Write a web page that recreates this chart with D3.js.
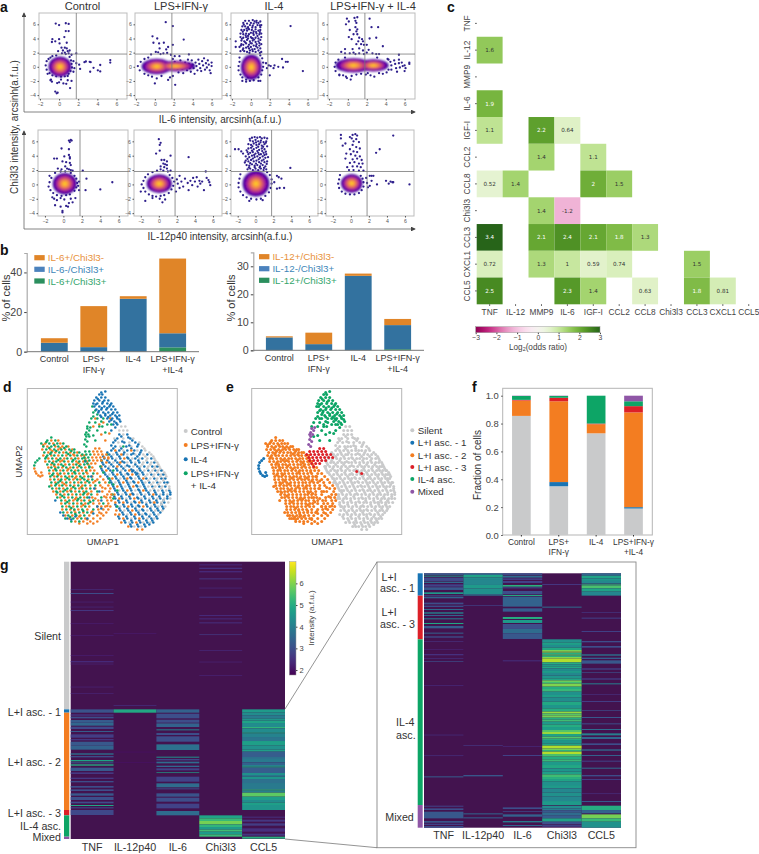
<!DOCTYPE html>
<html>
<head>
<meta charset="utf-8">
<script src="https://cdn.jsdelivr.net/npm/d3@7"></script>
<style>
  html, body { margin: 0; padding: 0; background: #fff; }
  svg { display: block; font-family: "Liberation Sans", Arial, sans-serif; }
</style>
</head>
<body>
<svg id="fig" width="759" height="854"></svg>
<script>
// ---- panel a: single cell scatter values, flat x,y lists, arcsinh(a.f.u.)
const scatterConditions = ['Control', 'LPS+IFN-γ', 'IL-4', 'LPS+IFN-γ + IL-4'];
const scatterTicksX = [-2, 0, 2, 4, 6];
const scatterTicksY = [-4, -2, 0, 2, 4, 6];
const gateValue = 1.8;

const il6Control = [-.35,6.1,0,5.9,.7,6.15,1,6.05,.7,5.05,1,5.05,-.7,3.9,-.75,3.5,-.4,3.6,0,3.9,.55,4.2,.05,3.3,.8,3.4,.25,2.7,.6,2.7,.4,2.3,.9,2.2,-.1,2.2,.6,2,1.1,2.3,.8,2.6,1,1.9,.3,1.9,1.3,1.7,.7,1.8,-1.3,.8,-1.4,.2,-1.3,-.4,-1.1,1.1,-.9,1.3,-.7,1.5,-.3,1.6,1.1,1.4,1.25,.9,1.3,.4,1.35,-.1,1.2,-.6,1,-1,.6,-1.35,.2,-1.4,-.3,-1.35,-.7,-1.2,-1,-.9,1.5,.8,1.6,-.2,1.5,-.7,-1.2,-1,.9,-1.3,-.9,-1.9,-.75,-2.1,-.85,-1.8,0,-2.2,.45,-2.35,.2,-1.8,-.4,-3.5,-.25,-3.75,-.15,-3.65,1.15,-3,.75,-2.4,1.3,-2,.9,-1.9,-.2,-2.3,1.8,1.9,1.8,.5,2.1,.3,2.2,-.3,2.65,.65,2.8,.75,3.2,.7,3.3,.65,3.25,-.7,3.6,-.15,4.05,-.5,4.3,.25,4.3,-.65,5.35,.95,5.35,.6];
const il6Lps = [1.15,6.3,1.9,5.75,-.25,4.3,.25,4,.95,3.4,-.15,3.4,.45,3.3,.5,2.6,1.2,2.45,3.05,3.85,1.9,3.1,1.4,2.8,.1,2.1,.9,1.9,.35,2.05,1.3,1.95,-.4,1.75,.6,1.8,1.7,1.7,2.1,1.5,3.6,1.75,2.6,1.5,0,-2.35,2.15,-2.55,.2,-1.65,1.4,-1.85,1.6,-1.5,1.9,-1.3,.7,-1.3,-.3,-1.4,-.7,-1.2,-1.1,-1,-1.6,-.5,-1.8,.1,-1.5,.7,-1.1,1.1,-.7,1.3,1.9,1.1,2.1,.7,2.3,.2,2.4,-.3,2.5,-.8,2.7,.9,2.8,.3,2.9,-.3,3,-.9,3.2,.6,3.3,.1,3.4,-.5,3.5,1,3.6,.4,3.7,-.2,3.8,-.7,3.9,.9,4,.3,4.1,-.2,4.2,-1,4.3,.6,4.4,.1,4.5,-.5,4.6,1,4.7,.4,4.8,-.2,4.9,-.6,5,.8,5.1,.2,5.2,1.2,5.3,-.4,5.4,.5,5.5,-.1,5.6,.9,5.7,.3,5.8,-.5,5.9,-.9,6,.1,6,.6];
const il6Il4 = [-1.6,3.6,-1.6,2.8,4.2,5.75,-.8,6.2,-.6,6.5,-.4,6.1,-.2,6.5,0,6.2,.2,6.6,.4,6.4,.6,6.5,.8,6.2,1,6.4,1.1,5.9,-.9,5.7,-.6,5.7,-.3,5.6,-.1,5.9,.2,5.8,.5,5.6,.7,5.9,1,5.6,-1,5.2,-.7,5.2,-.4,5.1,-.2,5.3,.1,5.2,.3,5,.5,5.3,.8,5.1,1,5.2,-1.1,4.7,-.8,4.6,-.5,4.7,-.2,4.6,0,4.8,.3,4.5,.6,4.7,.9,4.6,1.1,4.7,-1.1,4.2,-.8,4.1,-.5,4.2,-.3,4,0,4.2,.2,4,.5,4.1,.8,4,1.1,4.2,-1,3.7,-.7,3.6,-.4,3.8,-.1,3.6,.2,3.7,.5,3.5,.8,3.6,1,3.8,-1,3.2,-.8,3.1,-.5,3.3,-.2,3.1,.1,3.3,.3,3,.6,3.2,.9,3,1.1,3.2,-1.2,2.8,-.8,2.6,-.5,2.7,-.2,2.6,0,2.8,.4,2.5,.7,2.7,1,2.6,-1.1,2.2,-.7,2.2,-.4,2.1,-.1,2.3,.2,2.2,.5,2.1,.8,2.3,1.1,2.1,-1.2,1.3,-1.2,.7,-1.3,.1,-1.3,-.5,-1.1,-1.1,-.9,-1.5,-.5,-1.8,-.1,-2,.3,-1.9,.8,-1.5,1.1,-1.1,1.2,-.5,1.3,0,1.3,.6,1.2,1.2,1,1.6,-.9,-2,-.5,-2.1,-.3,-1.5,.8,-2,1,-2,1.7,-.2,1.9,.2,2.1,.1,2.4,-.2,2,-1.2,1.6,.5,3.3,1.1,3.7,.7,3.9,.7,3.4,-.1,5.5,-.6,2.5,.2,2.9,0];
const il6Il4More = [-.75,5.95,-.45,5.4,.15,5.55,.6,6.25,.95,5.85,-.85,4.95,-.3,4.35,.25,4.75,.7,4.35,.95,4.9,-.95,3.95,-.6,3.45,-.05,3.35,.35,3.85,.9,3.35,-1.05,3,-.3,2.85,.15,2.45,.55,2.9,-.85,2.4,-.15,1.95,.95,1.95,.3,6.1,-.55,4.45,.1,4.05,-.25,5.35,.55,4.9];
const il6Both = [-.1,6.8,.1,6.4,-.2,6,.7,6.9,.8,6.5,1,7,.9,6.2,.8,5.6,1,5.3,.9,5,2.3,6.8,3.2,5.6,2.5,5.6,.2,5.2,.6,4.6,1,4.6,1.2,4.1,.1,4.2,.4,3.9,1.5,3.9,2.3,4,3,4.1,1.1,3.6,1.6,3.6,1.4,3.2,.9,3.2,1.7,3.1,2,3.1,3.7,2.9,-.3,2.5,.5,2.5,1.2,2.6,1.6,2.3,2.2,2.4,-.7,2.1,-.3,1.9,.2,1.9,.8,1.8,1.2,1.9,2,2,2.6,1.9,.6,2,1.7,1.8,3,1.8,3.3,1.8,4.3,1,5.4,1.7,-1.3,.6,-1.4,0,-1.3,-.6,-1,1,-.9,-1.1,-.5,-1.2,-.2,-1.4,.4,-1.3,.9,-1.1,1.4,-1,1.9,-1.1,2.4,-1.2,2.8,-1.4,3.3,-.9,3.7,-1,4.1,-.8,4.2,1.1,4.5,.7,4.6,.2,4.6,-.4,4.9,.9,5,.4,5.1,-.2,5.2,-.7,5.4,1,5.4,.5,5.5,-.1,5.7,.6,5.8,.1,6,-.6,6,.2,6.1,-.2,6.5,.4,6.5,.6,.3,-1.8,-.1,-1.6,-.9,-1.2,2.1,-.9,4.3,-.4,3.1,1.3,-.3,1.3];
const il12Control = [.6,6.1,.8,6.2,.9,6.1,.7,5.9,-.2,5,.6,4.9,-1,3.6,-.7,3.6,.1,3.9,.6,4.1,.7,3.8,.7,3.6,-.1,3.2,.3,3.1,.7,3,.8,2.7,.2,2.5,.4,2.2,.6,2.1,-.2,2.1,.8,2,-.6,2.2,-.3,1.8,.2,1.8,1,1.9,-.9,1.6,-1.5,1.2,-1.3,.9,-1.5,.3,-1.6,-.3,-1.4,-.8,-1.1,-1.2,-.7,-1.5,-.2,-1.6,.3,-1.5,.7,-1.4,1.2,-.9,1.4,-.4,1.5,.2,1.4,.8,1.2,1.2,.8,1.6,1.6,-.2,1.7,.4,1.7,-.8,-1.2,-1.8,-1,-2,-.7,-2.2,-.3,-1.9,.1,-2.1,.8,-2,-.9,-2.9,-.3,-3.1,.6,-2.6,1,-2.5,1.3,-1.9,-.1,-3.7,-.1,-3.9,.3,-3,.5,-3.1,2.1,1.9,2.5,.8,2.4,-.8,4,-.7,5.3,.3];
const il12Lps = [0,6.3,.2,5.8,.1,5.5,-.3,4.3,.1,4.7,1.3,4,.3,3.4,.6,3.4,.9,3.2,.5,2.9,.7,2.8,.9,2.7,.2,2.5,.6,2.4,.9,2.2,3.3,3.8,.2,2.1,-.2,1.9,.5,1.9,1,1.8,1.3,1.9,-.7,1.7,-1.2,1.4,-1.5,1,-1.7,.5,-1.9,0,-1.7,-.5,-2,-1,-1.5,-1,-1.1,-1.4,-.7,-1.6,-.3,-1.7,.2,-1.6,.6,-1.5,1.1,-1.2,1.4,-.7,1.6,-.2,1.7,.4,1.5,.9,1.2,1.3,-1.5,-2.3,-.7,-1.9,.4,-2.5,.7,-2.1,.1,-2,2,.7,2.1,.1,2.3,-.5,2.5,.4,2.7,-.3,2.9,.8,3.2,.2,3.3,-.8,3.5,.5,3.7,-.1,3.8,.9,4,.4,4.2,1,4.3,-.3,4.5,.5,4.6,.1,4.8,.4,5,-.8,5.2,1.8,5.3,.9,5.5,.6,5.6,.3,5.7,-.1,1.9,-1,2.3,1.2];
const il12Il4 = [-.4,6.5,-.1,6.6,.2,6.5,.5,6.6,.7,6.4,1,6.5,1.3,6.4,-.6,6.1,-.3,6,0,6.2,.3,6,.6,6.1,.9,5.9,1.2,6,-.8,5.6,-.5,5.5,-.2,5.7,.1,5.5,.4,5.6,.7,5.4,1,5.6,1.3,5.3,-.8,5,-.5,5.1,-.2,4.9,.1,5.1,.4,4.8,.7,5,1,4.9,-2.3,4.9,-1.9,4.9,-1.6,4.6,-1.4,4.3,-.9,4.5,-.6,4.4,-.3,4.5,0,4.3,.3,4.4,.6,4.2,.9,4.4,1.2,4.2,-1.1,3.9,-.7,3.8,-.4,4,-.1,3.8,.2,3.9,.5,3.7,.8,3.9,1.1,3.7,1.4,3.8,-1.1,3.3,-.8,3.2,-.5,3.4,-.2,3.2,.1,3.3,.4,3.1,.7,3.3,1,3.1,1.3,3.2,-1,2.7,-.7,2.6,-.4,2.8,-.1,2.6,.2,2.7,.5,2.5,.8,2.7,1.1,2.5,-.9,2.1,-.6,2.2,-.3,2,0,2.2,.3,2,.6,2.2,.9,2,1.2,2.1,-1.7,1.4,-1.8,.8,-1.9,.2,-1.9,-.4,-1.7,-1,-1.4,-1.5,-1,-1.8,-.5,-2,.1,-2.1,.6,-2,1.1,-1.6,1.5,-1.1,1.7,-.5,1.8,.1,1.8,.7,1.6,1.3,1.3,1.7,.8,-2.2,-.7,-2.3,2.4,1.2,2.6,1,2.9,.8,2.4,-.6,2.7,-.5,3.2,-.5,2.1,.3,3.9,2.3];
const il12Il4More = [-.65,6.35,.05,5.85,.55,5.85,1.15,5.8,-.35,5.3,.3,5.25,.85,5.25,-1,4.75,-.4,4.7,.2,4.65,.75,4.65,1.15,4.55,-.8,4.2,-.15,4.1,.4,4.15,1,4.1,-.9,3.55,-.3,3.6,.35,3.5,.9,3.45,-1.2,3.05,-.6,2.95,.05,2.9,.6,2.9,1.25,2.85,-.75,2.35,-.1,2.4,.45,2.35,.95,2.3];
const il12Both = [-1.1,6.9,.2,6.9,.5,7,.7,6.8,-.1,6.6,.1,6.4,.6,6.3,.3,6,.9,5.9,4.7,6.8,-1.1,6.4,-.6,5.7,-.9,5.4,.2,5.5,.6,5.2,1,5,-.1,4.9,.3,4.6,.7,4.5,-.5,4.3,0,4.2,.5,4,1,3.9,3.2,4.9,2.8,4.4,-.6,3.6,.2,3.5,.7,3.6,1.2,3.4,-.1,3,.4,3.1,.9,2.9,1.3,2.9,-.4,2.4,.2,2.5,.7,2.5,1.1,2.4,.3,2,-.2,2,.9,1.9,1.4,1.9,-1.2,1.3,-1.3,.7,-1.4,.1,-1.3,-.5,-1,-1,-.6,-1.3,-.1,-1.4,.4,-1.4,.9,-1.2,1.2,-.8,1.4,-.3,1.4,.3,1.3,.8,1.1,1.2,1.7,.9,1.8,.2,1.9,-.4,2.1,1.2,2.3,.5,2.3,1.2,2.5,1.2,2.9,0,3.9,.5,4.2,.1,4.4,.4,4.6,.3,4.7,.3,6.5,0,2.1,-.2];
// densest part of each scatter: centre x, centre y, half width, half height
const il6Cores = [[[.1,0,1.2,1.45]], [[.2,.05,1.6,1.1],[2.2,.1,2.1,.75]], [[.05,-.05,1.1,1.8]], [[.6,.2,1.9,1],[2.7,.2,1.6,.85]]];
const il12Cores = [[[.15,.1,1.3,1.5]], [[.05,.1,1.4,1.3]], [[.05,.1,1.5,1.8]], [[.1,.15,1.2,1.3]]];
const coreRings = [[1, .07], [.85, .25], [.68, .45], [.5, .62], [.32, .78], [.14, .9]];

// ---- panel b
const barConditions = ['Control', 'LPS+\nIFN-γ', 'IL-4', 'LPS+IFN-γ\n+IL-4'];
const il6Double = [0, .1, 0, 2.2];
const il6ChiOnly = [4.5, 2.2, 26.7, 7.1];
const il6Only = [2.3, 20.7, 1.3, 37.7];
const il12Double = [0, 0, 0, .4];
const il12ChiOnly = [4.6, 2.2, 26.6, 8.6];
const il12Only = [.4, 4.1, .8, 2.2];
const il6LegendLabels = ['IL-6+/Chi3l3-', 'IL-6-/Chi3l3+', 'IL-6+/Chi3l3+'];
const il12LegendLabels = ['IL-12+/Chi3l3-', 'IL-12-/Chi3l3+', 'IL-12+/Chi3l3+'];

// ---- panel c
const cytokines = ['TNF', 'IL-12', 'MMP9', 'IL-6', 'IGF-I', 'CCL2', 'CCL8', 'Chi3l3', 'CCL3', 'CXCL1', 'CCL5'];
const oddsRows = ['IL-12','IL-6','IGF-I','IGF-I','IGF-I','CCL2','CCL2','CCL8','CCL8','CCL8','CCL8','Chi3l3','Chi3l3','CCL3','CCL3','CCL3','CCL3','CCL3','CCL3','CXCL1','CXCL1','CXCL1','CXCL1','CXCL1','CXCL1','CCL5','CCL5','CCL5','CCL5','CCL5','CCL5'];
const oddsCols = ['TNF','TNF','TNF','MMP9','IL-6','MMP9','IGF-I','TNF','IL-12','IGF-I','CCL2','MMP9','IL-6','TNF','MMP9','IL-6','IGF-I','CCL2','CCL8','TNF','MMP9','IL-6','IGF-I','CCL2','CCL3','TNF','IL-6','IGF-I','CCL8','CCL3','CXCL1'];
const oddsValues = [1.6,1.9,1.1,2.2,.64,1.4,1.1,.52,1.4,2,1.5,1.4,-1.2,3.4,2.1,2.4,2.1,1.8,1.3,.72,1.3,1,.59,.74,1.5,2.5,2.3,1.4,.63,1.8,.81];

// ---- panels d, e: UMAP cells as flat x,y lists, one list per cluster and treatment
const silentBlue = [92,46,100,46,90,50,103,50,86,54,97,54,108,54,88,58,99,58,110,58,84,62,92,62,100,62,107,62,114,62,82,66,90,66,96,66,104,66,112,66,120,66,77,70,85,70,93,70,101,70,108,70,115,70,124,70,75,74,82,74,90,74,97,74,104,74,112,74,120,74,127,74,78,78,86,78,94,78,102,78,110,78,117,78,125,78,130,78,75,82,83,82,90,82,98,82,106,82,113,82,121,82,128,82,134,82,78,86,86,86,94,86,101,86,109,86,116,86,124,86,131,86,136,86,81,90,89,90,97,90,104,90,112,90,119,90,127,90,134,90,138,90,84,94,92,94,100,94,107,94,115,94,122,94,130,94,137,94,140,94,86,98,94,98,102,98,110,98,117,98,125,98,132,98,138,98,88,102,96,102,104,102,112,102,119,102,127,102,135,102,142,102,91,106,99,106,106,106,114,106,122,106,129,106,136,106,143,106,88,110,95,110,103,110,111,110,118,110,126,110,133,110,140,110,92,114,100,114,108,114,115,114,123,114,130,114,137,114,89,118,97,118,105,118,112,118,120,118,128,118,135,118,93,122,101,122,109,122,116,122,124,122,131,122,96,126,104,126,112,126,119,126,127,126,92,130,100,130,108,130,116,130,124,130,130,130,98,134,105,134,113,134,120,134,126,134,104,138,111,138,118,138];
const silentBlue2 = [94,48,101,49,88,52,95,53,105,52,111,56,84,57,102,57,86,60,94,60,104,60,80,64,89,64,97,64,106,65,113,64,76,68,84,68,92,68,100,69,110,68,74,72,80,72,88,72,95,73,103,72,111,72,76,76,84,76,92,76,100,77,108,76,74,80,81,80,89,80,96,80,104,81,112,80,77,84,85,84,93,84,100,85,108,84,115,84,80,88,88,88,96,88,103,89,111,88,83,92,91,92,99,92,106,93,114,92,85,96,93,96,101,96,109,97,116,96,87,100,95,100,103,100,111,101,118,100,90,104,98,104,105,105,113,104,121,104,128,104,136,104,143,104,87,108,94,108,102,108,110,109,117,108,125,108,132,108,140,108,91,112,99,112,107,113,114,112,122,112,129,112,136,112,88,116,96,116,104,116,111,117,119,116,127,116,134,116,92,120,100,120,108,120,115,121,123,120,130,120,136,120,95,124,103,124,111,124,118,125,126,124,133,124,91,128,99,128,107,128,115,128,122,128,129,128,97,132,104,132,112,132,119,132,125,132,103,136,110,136,117,136,122,136];
const silentGrey = [94,38,98,38,92,42,96,42,100,42,96,46,87,50,96,50,106,50,91,54,102,54,112,54,93,58,104,58,115,58,96,62,110,62,118,62,86,66,100,66,108,66,116,66,124,66,89,70,105,70,112,70,120,70,127,70,86,74,100,74,108,74,116,74,124,74,130,74,82,78,98,78,106,78,113,78,121,78,128,78,132,78,94,82,110,82,117,82,125,82,131,82,135,82,82,86,98,86,112,86,120,86,127,86,134,86,138,86,93,90,108,90,123,90,130,90,136,90,88,94,103,94,118,94,126,94,133,94,141,94,98,98,113,98,121,98,128,98,135,98,142,98,92,102,108,102,123,102,131,102,139,102,95,106,110,106,118,106,133,106,140,106,99,110,114,110,122,110,130,110,137,110,143,110,104,114,119,114,126,114,134,114,141,114,93,118,109,118,124,118,131,118,138,118,97,122,112,122,120,122,128,122,135,122,100,126,115,126,123,126,131,126,104,130,120,130,127,130,102,134,116,134,123,134,107,138,114,138];
const silentGrey2 = [117,60,122,64,118,68,126,68,119,72,128,72,115,76,123,76,131,76,120,80,127,80,133,80,123,84,130,84,137,84,118,88,126,88,133,88,139,88,121,92,129,92,136,92,124,96,131,96,139,96,126,100,134,100,142,100,136,112,134,116];
const silentOrange = [88,62,104,62,94,66,81,70,97,70,79,74,93,74,74,78,90,78,79,82,102,82,90,86,105,86,85,90,100,90,116,90,96,94,111,94,90,98,106,98,100,102,116,102,87,106,103,106,126,106,92,110,107,110,88,114,96,114,112,114,127,114,101,118,116,118,89,122,105,122,88,126,92,126,108,126,96,130,112,130,94,134,109,134,101,138,110,141,115,141];
const silentGreen = [80,66,74,72,73,78,76,84,82,90,86,96,82,94,90,102,86,110,90,118,85,106,86,82,96,58];
const silentRed = [105,83,110,85];
const l2Green = [24,49,20,52,28,52,14,55,22,55,30,55,36,55,16,58,24,58,31,58,39,58,19,61,27,61,34,61,42,61,47,61,17,64,24,64,32,64,39,64,47,64,52,64,20,67,27,67,35,67,43,67,50,67,18,70,25,70,33,70,40,70,48,70,55,70,22,73,29,73,37,73,45,73,52,73,20,76,27,76,34,76,42,76,49,76,57,76,24,79,31,79,39,79,46,79,54,79,62,79,22,82,29,82,36,82,44,82,51,82,59,82,26,85,33,85,41,85,48,85,56,85,66,85,23,88,30,88,38,88,45,88,53,88,61,88,27,91,34,91,42,91,50,91,57,91,65,91,24,94,31,94,39,94,47,94,54,94,62,94,72,94,28,97,35,97,43,97,51,97,58,97,68,97,25,100,32,100,40,100,48,100,55,100,63,100,29,103,36,103,44,103,52,103,59,103,70,103,33,106,41,106,49,106,56,106,64,106,30,109,37,109,45,109,53,109,60,109,74,109,34,112,42,112,50,112,57,112,66,112,38,115,46,115,54,115,61,115,76,115,35,118,42,118,50,118,58,118,39,121,47,121,55,121,66,121,36,124,44,124,52,124,60,124,41,127,49,127,57,127,38,130,46,130,54,130,44,133,52,133];
const l2Green2 = [19,53.5,27,56.5,22,59.5,37,59.5,29,62.5,44,62.5,23,65.5,41,65.5,19,68.5,31,71.5,46,71.5,25,74.5,36,77.5,52,77.5,28,80.5,47,83.5,25,86.5,40,89.5,55,89.5,33,92.5,60,92.5,29,95.5,46,98.5,38,101.5,57,104.5,35,107.5,51,110.5,40,113.5,63,113.5,44,119.5,56,122.5,48,125.5,43,128.5,30,104,22,98];
const l2Orange = [24,52,31,52,18,55,26,55,33,55,20,58,28,58,35,58,41,58,15,61,23,61,31,61,38,61,45,61,21,64,28,64,36,64,43,64,50,64,16,67,24,67,31,67,39,67,47,67,54,67,57,67,21,70,29,70,37,70,44,70,51,70,58,70,18,73,26,73,33,73,41,73,49,73,56,73,60,73,24,76,31,76,38,76,46,76,53,76,61,76,21,79,28,79,35,79,43,79,50,79,58,79,65,79,26,82,33,82,40,82,48,82,55,82,63,82,67,82,22,85,30,85,37,85,45,85,52,85,60,85,70,85,27,88,34,88,42,88,49,88,57,88,65,88,73,88,23,91,31,91,38,91,46,91,53,91,61,91,70,91,76,91,28,94,35,94,43,94,51,94,58,94,66,94,78,94,24,97,32,97,39,97,47,97,55,97,63,97,73,97,81,97,29,100,36,100,44,100,52,100,59,100,68,100,78,100,83,100,26,103,33,103,40,103,48,103,56,103,64,103,75,103,82,103,29,106,37,106,45,106,53,106,60,106,70,106,80,106,84,106,33,109,41,109,49,109,57,109,65,109,79,109,83,109,38,112,46,112,54,112,62,112,71,112,80,112,84,112,34,115,42,115,50,115,58,115,66,115,72,115,81,115,39,118,46,118,54,118,62,118,70,118,78,118,83,118,35,121,43,121,51,121,60,121,71,121,76,121,81,121,40,124,48,124,56,124,64,124,72,124,79,124,38,127,45,127,53,127,62,127,70,127,76,127,42,130,50,130,58,130,66,130,73,130,48,133,56,133,63,133,70,133,52,135,60,135];
const l2Orange2 = [16,56.5,33,59.5,25,62.5,46,66,35,72,51,74.5,27,77.5,41,80.5,59,83.5,31,86.5,48,89.5,68,92.5,37,95.5,54,98.5,75,99,43,102,61,105,77,108,48,110.5,68,110,80,117.5,56,116.5,74,118,47,122,65,123,74,125,52,128,60,131,66,135];
const l2Blue = [36,127,40,130,44,131,48,128,66,125,70,118,62,109,67,100,72,103,58,73,64,88,60,130,74,112,74,120,33,124,28,112];
const l1Green = [12,70,10,72,8,74,7,77];
const l1Orange = [7,80,8,83,9,85,11,87,13,88,15,87,14,84];
const l3Green = [58,63,62,63,55,66,59,66,63,66,57,69,61,69,58,72,62,72,60,75,62,78];
const l3Orange = [66,63,70,63,74,63,68,60,72,60,67,66,71,66,75,66,79,66,65,69,69,69,73,69,77,69,81,69,66,72,70,72,74,72,64,75,68,75];
const il4Blue = [72,6,75,6,69,9,74,9,78,9,67,12,72,12,77,12,81,12,70,15,75,15,80,15,84,15,67,18,72,18,77,18,82,18,86,18,69,21,74,21,79,21,84,21,88,21,71,24,76,24,81,24,86,24,90,24,73,27,78,27,83,27,88,27,92,27,80,30,85,30,90,30,82,33,87,33,93,33,86,36,90,36,88,39,84,42,66,15,78,3,74,4];
const il4Blue2 = [70.5,10.5,75.5,13.5,68.5,16,83,16.5,74.5,19.5,80,19.5,71.5,22.5,78,25.5,85,25.5,74,28.5,81,28.5,89.5,28.5,84,31.5,89,34.5,92,31];
const il4Green = [65,18,66,24,64,30,62,34,60,38,68,34,70,42,66,47,68,52,62,48,75,38,78,44,70,30,66,28,74,33,80,36,84,36,68,22,70,26,76,30,72,38];
const il4Orange = [68,30,72,36,76,34,82,45,74,46,78,52,66,38,83,30];
const mixedCells = [60,40,62,42,59,44,61,46,59,48,58,51,60,53,57,56,59,58,63,39,58,46];

// drawing order of panel d follows this table
const umapGroups = [
  {cells: silentGrey, condition: 'Control', cluster: 'Silent'},
  {cells: silentBlue, condition: 'IL-4', cluster: 'Silent'},
  {cells: silentBlue2, condition: 'IL-4', cluster: 'Silent'},
  {cells: silentGrey2, condition: 'Control', cluster: 'Silent'},
  {cells: silentOrange, condition: 'LPS+IFN-γ', cluster: 'Silent'},
  {cells: silentGreen, condition: 'Both', cluster: 'Silent'},
  {cells: l2Orange, condition: 'LPS+IFN-γ', cluster: 'L+I asc. - 2'},
  {cells: l2Orange2, condition: 'LPS+IFN-γ', cluster: 'L+I asc. - 2'},
  {cells: l2Green, condition: 'Both', cluster: 'L+I asc. - 2'},
  {cells: l2Green2, condition: 'Both', cluster: 'L+I asc. - 2'},
  {cells: l2Blue, condition: 'IL-4', cluster: 'L+I asc. - 2'},
  {cells: l1Orange, condition: 'LPS+IFN-γ', cluster: 'L+I asc. - 1'},
  {cells: l1Green, condition: 'Both', cluster: 'L+I asc. - 1'},
  {cells: l3Orange, condition: 'LPS+IFN-γ', cluster: 'L+I asc. - 3'},
  {cells: l3Green, condition: 'Both', cluster: 'L+I asc. - 3'},
  {cells: silentRed, condition: 'IL-4', cluster: 'L+I asc. - 3'},
  {cells: il4Orange, condition: 'LPS+IFN-γ', cluster: 'IL-4 asc.'},
  {cells: il4Green, condition: 'Both', cluster: 'IL-4 asc.'},
  {cells: il4Blue, condition: 'IL-4', cluster: 'IL-4 asc.'},
  {cells: il4Blue2, condition: 'IL-4', cluster: 'IL-4 asc.'},
  {cells: mixedCells, condition: 'Both', cluster: 'Mixed'}
];
const conditionNames = ['Control', 'LPS+IFN-γ', 'IL-4', 'Both'];
const clusterNames = ['Silent', 'L+I asc. - 1', 'L+I asc. - 2', 'L+I asc. - 3', 'IL-4 asc.', 'Mixed'];

// ---- panel f, fraction per cluster
const fracSilent = [.855, .35, .73, .19];
const fracL1 = [0, .03, 0, .01];
const fracL2 = [.11, .58, .065, .68];
const fracL3 = [.005, .025, .005, .045];
const fracIl4 = [.028, .013, .2, .035];
const fracMixed = [.002, .002, 0, .04];

// ---- panel g: bands of cells as [first row, last row, intensity], everything else is background
const heatGenes = ['TNF', 'IL-12p40', 'IL-6', 'Chi3l3', 'CCL5'];
const heatTnf = [[103,105,2.5],[114,117,3],[140,142,2.3],[155,157,2.4],[165,168,2.6],[205,207,2.2],[240,242,2.2],[300,302,2.2],[318,322,2.4],[326,328,2.3],[395,397,2.3],[414,416,2.3],[463,473,3.1],[478,482,2.6],[485,490,3],[495,503,3.3],[503,512,3.5],[515,522,2.9],[528,531,3.3],[538,548,2.7],[552,556,2.6],[560,572,3.2],[572,584,3.4],[595,599,3.7],[603,607,3],[615,619,4.8],[622,625,3.2],[628,632,5],[638,648,3.2],[652,657,2.6],[668,672,2.6],[678,682,3],[693,698,3],[703,708,3],[715,722,3.2],[726,735,3],[740,745,3],[750,753,4.9],[757,760,3],[765,780,2.9]];
const heatP40 = [[235,237,2.15],[450,452,2.5],[463,473,4.9],[590,592,2],[622,624,2]];
const heatIl6 = [[463,473,3.4],[476,490,3],[494,503,3],[505,516,3.4],[523,526,4],[534,540,3],[544,560,3],[568,585,3.7],[605,608,4.4],[612,616,2.9],[620,625,3.6],[632,636,3.5],[640,646,2.8],[652,654,4.7],[665,680,2.8],[685,697,3.6],[700,703,3],[715,725,3.1],[728,740,3],[746,760,2.8],[768,781,3.6]];
const heatChi = [[28,31,2.4],[38,42,2.5],[48,52,2.4],[70,73,2.6],[98,100,2.4],[125,128,2.5],[180,183,2.4],[190,193,2.4],[202,205,2.5],[238,240,2.7],[285,287,2.4],[320,322,2.3],[360,362,2.3],[781,790,4.8],[790,798,5.3],[798,808,5.9],[808,816,5.2],[816,824,4.6],[824,830,5.4],[830,838,4.6],[838,845,5.3]];
const heatCcl5 = [[463,473,4.6],[473,482,4.3],[482,490,3.9],[490,497,4.5],[497,504,4.8],[504,516,4.3],[516,520,5.2],[520,532,4.3],[532,536,4.8],[536,546,4.1],[546,558,3.8],[558,572,4.7],[572,584,4.4],[584,590,4.7],[590,606,3.3],[606,612,3.7],[612,622,3.9],[622,630,3.4],[630,634,4.1],[634,638,4.8],[638,654,3.3],[654,660,4.4],[660,665,3.8],[665,672,4.5],[672,684,3.7],[684,703,3.9],[703,707,5.1],[707,713,4],[713,725,5.7],[725,735,4.7],[735,742,4.3],[742,750,4.7],[750,765,4.5],[785,788,2.5],[794,800,2.6],[805,812,2.7],[820,830,2.5],[836,842,2.6],[845,851,5.1]];
const zoomTnf = [[55,60,3.2],[62,65,4.6],[68,78,2.9],[80,84,3.6],[88,95,2.8],[97,105,3.2],[112,117,4.6],[120,122,3],[125,130,3.4],[143,148,3],[152,156,3],[162,165,3.6],[172,176,4.2],[180,183,3.5],[190,193,4],[204,207,4.9],[213,220,3.3],[233,236,3.4],[244,248,3],[258,260,2.5],[283,285,2.3],[297,301,2.5],[310,312,2.5],[318,320,3],[390,392,2.4],[539,541,2.5],[601,603,2.5],[664,667,3.3],[752,755,2.8],[760,765,3],[770,790,3.2],[798,803,3.2],[806,810,2.8],[813,818,3]];
const zoomP40 = [[55,60,3.6],[60,68,4.8],[68,75,4.3],[75,90,4.2],[90,100,4.6],[100,118,4.4],[118,122,3.8],[150,152,2.8],[570,572,2.6],[660,664,3.2],[775,778,3.5],[787,790,3.4]];
const zoomIl6 = [[55,60,3],[62,68,3.6],[70,75,2.7],[78,84,2.8],[90,95,5.1],[97,100,3],[108,118,3],[120,123,5],[125,155,3.4],[160,170,3.3],[186,192,5],[195,204,4.6],[207,222,3],[222,235,3.6],[235,252,3.2],[316,319,2.5],[573,575,2.4],[600,603,2.8],[757,762,3],[768,770,3],[778,785,3.4],[798,802,4],[810,813,3.5]];
const zoomChi = [[87,90,2.6],[155,158,3.6],[253,262,4.4],[262,270,4.7],[270,278,4.3],[278,285,4.9],[285,290,5.9],[290,293,6.3],[293,298,5],[298,302,5.6],[302,306,5.1],[306,311,6],[311,322,6.4],[322,328,5],[328,334,4.6],[334,340,4.9],[340,348,4.3],[348,354,4.6],[354,362,4.2],[362,370,4.5],[370,376,4.8],[376,381,5.8],[381,386,5.4],[386,395,6],[395,402,5],[402,410,5.3],[410,420,4.4],[420,428,4.7],[428,440,4.3],[440,450,4.9],[450,460,4.5],[460,470,5],[470,475,6.2],[475,481,5.6],[481,488,5.9],[488,494,5],[494,500,5.4],[500,508,4.6],[508,516,5],[516,525,4.7],[525,531,5.6],[531,537,6.2],[537,545,4.8],[545,551,5.6],[551,555,5],[555,565,4.5],[565,572,4.8],[572,580,6.4],[580,585,5.9],[585,590,5.2],[590,597,6.4],[597,605,5.5],[605,613,5],[613,620,5.3],[620,630,4.6],[630,640,4.9],[640,650,4.5],[650,658,4.7],[658,666,5.4],[666,672,5.1],[672,680,4.8],[680,690,4.4],[690,700,4.6],[700,712,4.2],[712,725,4.4],[725,738,4.2],[738,750,4.6],[752,760,4.3],[760,766,4],[766,772,3.2],[772,782,3.6],[782,790,3.3],[790,800,4.8],[800,808,3],[810,815,2.8]];
const zoomCcl5 = [[55,62,3.5],[62,70,4.8],[70,78,4.5],[78,86,4.2],[88,92,5.2],[92,100,5.5],[100,110,4.8],[110,122,4.2],[172,174,2.6],[188,191,2.8],[228,231,2.8],[258,262,3],[273,278,3],[298,302,3.8],[308,312,3.3],[316,326,3.2],[340,344,2.8],[352,354,3],[370,374,2.7],[385,388,4],[418,420,2.5],[438,441,2.7],[465,467,3],[486,489,3.2],[505,508,3],[522,525,3.6],[535,541,4],[546,552,3.5],[565,570,3],[583,587,3.6],[600,603,3.4],[617,620,2.8],[638,641,3.6],[660,664,3],[672,675,2.7],[715,717,2.5],[738,741,3.3],[752,765,5],[765,775,3.4],[778,790,5.9],[790,800,5.3],[800,818,4.4]];
const mainBarRows = [[20,463,'Silent'],[463,473,'L+I asc. - 1'],[473,765,'L+I asc. - 2'],[765,781,'L+I asc. - 3'],[781,845,'IL-4 asc.'],[845,852,'Mixed']];
const zoomBarRows = [[55,122,'L+I asc. - 1'],[122,253,'L+I asc. - 3'],[253,750,'IL-4 asc.'],[750,818,'Mixed']];
const intensityTicks = [2, 3, 4, 5, 6];

// colours
const conditionColor = d3.scaleOrdinal(conditionNames, ['#c9cacb', '#f37d21', '#1874b4', '#0da566']);
const clusterColor = d3.scaleOrdinal(clusterNames, ['#c9cacb', '#1874b4', '#f37d21', '#dc2028', '#0da566', '#8f56a6']);
const stackColor = {double: '#2b8f5e', chi: '#33729f', cyt: '#e08528'};
const legendTextColor = ['#e8913a', '#3d86b8', '#35a56c'];
const textDark = '#333';

const svg = d3.select('#fig');
const defs = svg.append('defs');

function label(x, y, text, size, opts = {}) {
    const t = svg.append('text')
        .attr('x', x)
        .attr('y', y)
        .attr('font-size', size)
        .attr('fill', opts.fill || textDark)
        .attr('text-anchor', opts.anchor || 'start')
        .attr('dominant-baseline', 'central')
        .text(text);
    if (opts.bold) t.attr('font-weight', 'bold');
    if (opts.rotate) t.attr('transform', `rotate(${opts.rotate},${x},${y})`);
    return t;
}

function styleAxis(g, size, color) {
    g.attr('font-family', null).attr('font-size', size);
    g.selectAll('text').attr('fill', color);
    g.selectAll('line').attr('stroke', color);
    g.selectAll('.domain').attr('stroke', color);
}

function flatPairs(list) {
    const out = [];
    for (let i = 0; i < list.length; i += 2) out.push([list[i], list[i + 1]]);
    return out;
}

// panel letters
[['a', 0, 7], ['b', 0, 250], ['c', 447, 7], ['d', 3, 386.5], ['e', 226, 386.5], ['f', 472, 386.5], ['g', 0, 565]]
    .forEach(d => label(d[1], d[2], d[0], 14, {bold: true, fill: '#111'}));

// ---------- panel a
const softBlur = defs.append('filter').attr('id', 'soft').attr('x', '-30%').attr('y', '-30%').attr('width', '160%').attr('height', '160%');
softBlur.append('feGaussianBlur').attr('stdDeviation', .9);

function scatterPanel(box, xDomain, yDomain, points, cores) {
    const x = d3.scaleLinear().domain(xDomain).range([box[0], box[1]]);
    const y = d3.scaleLinear().domain(yDomain).range([box[3], box[2]]);
    const g = svg.append('g');

    g.append('rect')
        .attr('x', box[0]).attr('y', box[2])
        .attr('width', box[1] - box[0]).attr('height', box[3] - box[2])
        .attr('fill', '#fff').attr('stroke', '#bdbdbd').attr('stroke-width', 1);

    g.append('g').selectAll('circle')
        .data(flatPairs(points))
        .join('circle')
        .attr('cx', d => x(d[0]))
        .attr('cy', d => y(d[1]))
        .attr('r', 1.15)
        .attr('fill', '#2e1f8c');

    // density core, darkest ring first
    const coreG = g.append('g').attr('filter', 'url(#soft)');
    coreRings.forEach(ring => {
        coreG.append('g').selectAll('ellipse')
            .data(cores)
            .join('ellipse')
            .attr('cx', d => x(d[0]))
            .attr('cy', d => y(d[1]))
            .attr('rx', d => Math.abs(x(d[0] + d[2] * ring[0]) - x(d[0])))
            .attr('ry', d => Math.abs(y(d[1] + d[3] * ring[0]) - y(d[1])))
            .attr('fill', d3.interpolatePlasma(ring[1]));
    });

    g.append('line').attr('x1', x(gateValue)).attr('x2', x(gateValue)).attr('y1', box[2]).attr('y2', box[3]).attr('stroke', '#777').attr('stroke-width', .8);
    g.append('line').attr('x1', box[0]).attr('x2', box[1]).attr('y1', y(gateValue)).attr('y2', y(gateValue)).attr('stroke', '#777').attr('stroke-width', .8);

    const xAxis = g.append('g').attr('transform', `translate(0,${box[3]})`)
        .call(d3.axisBottom(x).tickValues(scatterTicksX).tickSize(1.5).tickPadding(1.5));
    styleAxis(xAxis, 5.2, '#555');
    xAxis.select('.domain').remove();
    const yAxis = g.append('g').attr('transform', `translate(${box[0]},0)`)
        .call(d3.axisLeft(y).tickValues(scatterTicksY).tickSize(1.5).tickPadding(1.5));
    styleAxis(yAxis, 5.2, '#555');
    yAxis.select('.domain').remove();
}

const il6Boxes = [[39, 127], [135, 222], [231, 318], [328, 415]];
const il12Boxes = [[38, 128], [134, 222], [231, 318], [326, 414]];
[il6Control, il6Lps, il6Il4.concat(il6Il4More), il6Both].forEach((pts, i) =>
    scatterPanel([il6Boxes[i][0], il6Boxes[i][1], 13, 99], [-2.1, 7.1], [-4.55, 7.6], pts, il6Cores[i]));
[il12Control, il12Lps, il12Il4.concat(il12Il4More), il12Both].forEach((pts, i) =>
    scatterPanel([il12Boxes[i][0], il12Boxes[i][1], 130, 216], [-2.75, 7], [-4.4, 7.58], pts, il12Cores[i]));

[82.5, 181, 274, 373].forEach((cx, i) => label(cx, 5.8, scatterConditions[i], 11, {anchor: 'middle'}));

const arrowHead = defs.append('marker').attr('id', 'arrow').attr('viewBox', '0 0 6 6').attr('refX', 5).attr('refY', 3)
    .attr('markerWidth', 6).attr('markerHeight', 6).attr('orient', 'auto');
arrowHead.append('path').attr('d', 'M0,0L6,3L0,6Z').attr('fill', '#444');
[[112, 13], [229, 131]].forEach(d => {
    svg.append('line').attr('x1', 24).attr('y1', d[0]).attr('x2', 415).attr('y2', d[0])
        .attr('stroke', '#666').attr('stroke-width', .8).attr('marker-end', 'url(#arrow)');
    svg.append('line').attr('x1', 24).attr('y1', d[0]).attr('x2', 24).attr('y2', d[1])
        .attr('stroke', '#666').attr('stroke-width', .8).attr('marker-end', 'url(#arrow)');
});
label(220, 119.5, 'IL-6 intensity, arcsinh(a.f.u.)', 10, {anchor: 'middle'});
label(220, 236.5, 'IL-12p40 intensity, arcsinh(a.f.u.)', 10, {anchor: 'middle'});
label(14, 127, 'Chi3l3 intensity, arcsinh(a.f.u.)', 10, {anchor: 'middle', rotate: -90});

// ---------- panel b
function stackedBars(o) {
    const table = barConditions.map((c, i) => ({name: c, double: o.double[i], chi: o.chi[i], cyt: o.cyt[i]}));
    const series = d3.stack().keys(['double', 'chi', 'cyt'])(table);
    const x = d3.scaleBand().domain(barConditions).range(o.xRange).paddingInner(.32).paddingOuter(.16);
    const y = d3.scaleLinear().domain([0, o.top]).range([o.y0, o.y1]);
    const g = svg.append('g');

    g.selectAll('g.layer')
        .data(series)
        .join('g')
        .attr('class', 'layer')
        .attr('fill', d => stackColor[d.key])
        .selectAll('rect')
        .data(d => d)
        .join('rect')
        .attr('x', d => x(d.data.name))
        .attr('y', d => y(d[1]))
        .attr('width', x.bandwidth())
        .attr('height', d => y(d[0]) - y(d[1]));

    const yAxis = g.append('g').attr('transform', `translate(${o.axisX},0)`)
        .call(d3.axisLeft(y).tickValues(o.ticks).tickSize(2.5).tickPadding(2));
    styleAxis(yAxis, 10.7, '#444');
    yAxis.select('.domain').attr('stroke', '#aaa').attr('stroke-width', 1.2);

    const xAxis = g.append('g').attr('transform', `translate(0,${o.y0})`)
        .call(d3.axisBottom(x).tickSize(0).tickPadding(4));
    styleAxis(xAxis, 9, textDark);
    xAxis.select('.domain').attr('d', `M${o.axisX},0H${o.axisEnd}`).attr('stroke', '#777');
    xAxis.selectAll('text').each(function(d) {
        const parts = d.split('\n');
        const t = d3.select(this).text(null);
        parts.forEach((p, i) => t.append('tspan').attr('x', 0).attr('dy', i ? 11 : '0.71em').text(p));
    });

    o.legend.forEach((text, i) => {
        svg.append('rect').attr('x', o.legendX).attr('y', o.legendY[i] - 2.6)
            .attr('width', 10.4).attr('height', 5.2)
            .attr('fill', [stackColor.cyt, '#4b82bd', stackColor.double][i]);
        label(o.legendX + 13.4, o.legendY[i], text, 9.8, {fill: legendTextColor[i]});
    });
}

stackedBars({double: il6Double, chi: il6ChiOnly, cyt: il6Only, xRange: [34.6, 192.4], y0: 351.7, y1: 253, top: 49.8,
    ticks: [0, 20, 40], axisX: 26.7, axisEnd: 199, legend: il6LegendLabels, legendX: 34.3, legendY: [257.7, 269.3, 281]});
stackedBars({double: il12Double, chi: il12ChiOnly, cyt: il12Only, xRange: [259.6, 417.4], y0: 350.3, y1: 252.3, top: 35,
    ticks: [0, 10, 20, 30], axisX: 253.3, axisEnd: 424, legend: il12LegendLabels, legendX: 259, legendY: [256.7, 268.7, 280.3]});
label(5.5, 298, '% of cells', 11, {anchor: 'middle', rotate: -90});
label(231, 298, '% of cells', 11, {anchor: 'middle', rotate: -90});

// ---------- panel c
const oddsColor = d3.scaleSequential(d3.interpolatePiYG).domain([-3, 3]);
const oddsX = d3.scaleBand().domain(cytokines).range([476.7, 761.7]);
const oddsY = d3.scaleBand().domain(cytokines).range([10, 304.3]);
const oddsCells = oddsValues.map((v, i) => ({row: oddsRows[i], col: oddsCols[i], value: v}));
const oddsG = svg.append('g');

oddsG.selectAll('rect')
    .data(oddsCells)
    .join('rect')
    .attr('x', d => oddsX(d.col))
    .attr('y', d => oddsY(d.row))
    .attr('width', oddsX.bandwidth())
    .attr('height', oddsY.bandwidth())
    .attr('fill', d => oddsColor(d.value));

oddsG.selectAll('text.cell')
    .data(oddsCells)
    .join('text')
    .attr('class', 'cell')
    .attr('x', d => oddsX(d.col) + oddsX.bandwidth() / 2)
    .attr('y', d => oddsY(d.row) + oddsY.bandwidth() / 2)
    .attr('text-anchor', 'middle')
    .attr('dominant-baseline', 'central')
    .attr('font-size', 5.6)
    .attr('font-family', 'DejaVu Sans')
    .attr('fill', d => d.value >= 1.75 ? '#fff' : '#333')
    .text(d => d.value);

const oddsXAxis = oddsG.append('g').attr('transform', 'translate(0,304.3)')
    .call(d3.axisBottom(oddsX).tickSize(1.5).tickPadding(3));
styleAxis(oddsXAxis, 8.3, '#444');
oddsXAxis.select('.domain').remove();
const oddsYAxis = oddsG.append('g').attr('transform', 'translate(476.7,0)')
    .call(d3.axisLeft(oddsY).tickSize(1.5).tickPadding(3));
styleAxis(oddsYAxis, 8.3, '#444');
oddsYAxis.select('.domain').remove();
oddsYAxis.selectAll('text')
    .attr('text-anchor', 'middle')
    .attr('transform', 'rotate(-90,-9,0) translate(0,0)')
    .attr('x', -9)
    .attr('dy', '0.32em');

function gradientBar(id, interp, domain, x, y, w, h, vertical) {
    const grad = defs.append('linearGradient').attr('id', id)
        .attr('x1', 0).attr('y1', vertical ? 1 : 0).attr('x2', vertical ? 0 : 1).attr('y2', 0);
    d3.range(0, 1.001, .05).forEach(t => grad.append('stop')
        .attr('offset', t)
        .attr('stop-color', interp(domain[0] + t * (domain[1] - domain[0]))));
    svg.append('rect').attr('x', x).attr('y', y).attr('width', w).attr('height', h)
        .attr('fill', `url(#${id})`).attr('stroke', '#999').attr('stroke-width', .5);
}
gradientBar('oddsBar', oddsColor, [-3, 3], 475.7, 326.7, 124.3, 6, false);
const oddsBarAxis = svg.append('g').attr('transform', 'translate(0,332.7)')
    .call(d3.axisBottom(d3.scaleLinear().domain([-3, 3]).range([475.7, 600])).ticks(7).tickSize(1.5).tickPadding(.5).tickFormat(d3.format('d')));
styleAxis(oddsBarAxis, 6.8, '#444');
oddsBarAxis.select('.domain').remove();
const oddsTitle = label(538, 347, 'Log', 8.2, {anchor: 'middle', fill: '#444'});
oddsTitle.append('tspan').attr('font-size', 5.4).attr('dy', 2).text('2');
oddsTitle.append('tspan').attr('dy', -2).text('(odds ratio)');

// ---------- panels d, e
function umapPanel(left, colorOf, groups, key, r) {
    const x = d3.scaleLinear().domain([0, 150]).range([left, left + 150]);
    const y = d3.scaleLinear().domain([0, 146]).range([388.5, 534.5]);
    const g = svg.append('g');
    g.append('rect').attr('x', left).attr('y', 388.5).attr('width', 150).attr('height', 146)
        .attr('fill', '#fff').attr('stroke', '#b5b5b5').attr('stroke-width', 1);
    groups.forEach(group => {
        g.append('g').selectAll('circle')
            .data(flatPairs(group.cells))
            .join('circle')
            .attr('cx', d => x(d[0]))
            .attr('cy', d => y(d[1]))
            .attr('r', r)
            .attr('fill', colorOf(group[key]));
    });
    label(left + 75.5, 541.7, 'UMAP1', 9.3, {anchor: 'middle'});
}
umapPanel(27.3, conditionColor, umapGroups, 'condition', 1.3);
umapPanel(251.7, clusterColor, d3.sort(umapGroups, d => clusterNames.indexOf(d.cluster)), 'cluster', 1.5);
label(19.3, 461.5, 'UMAP2', 9.3, {anchor: 'middle', rotate: -90});

[['Control', 431], ['LPS+IFN-γ', 445], ['IL-4', 459.3], ['Both', 473.3]].forEach(d => {
    svg.append('circle').attr('cx', 185.7).attr('cy', d[1]).attr('r', 2).attr('fill', conditionColor(d[0]));
    label(190.7, d[1], d[0] === 'Both' ? 'LPS+IFN-γ' : d[0], 9.8);
});
label(190.7, 485, '+ IL-4', 9.8);
clusterNames.forEach((name, i) => {
    const ly = [430.3, 442.7, 455.3, 467, 479, 491.7][i];
    svg.append('circle').attr('cx', 412.3).attr('cy', ly).attr('r', 2).attr('fill', clusterColor(name));
    label(417.7, ly, name, 9.8);
});

// ---------- panel f
const fracKeys = ['Silent', 'L+I asc. - 1', 'L+I asc. - 2', 'L+I asc. - 3', 'IL-4 asc.', 'Mixed'];
const fracSeries = [fracSilent, fracL1, fracL2, fracL3, fracIl4, fracMixed];
const fracTable = barConditions.map((c, i) => {
    const row = {name: c};
    fracKeys.forEach((k, j) => { row[k] = fracSeries[j][i]; });
    return row;
});
const fracX = d3.scaleBand().domain(barConditions).range([502.7, 652.2]).paddingInner(.5).paddingOuter(.25);
const fracY = d3.scaleLinear().domain([0, 1]).range([535, 395.7]);
const fracG = svg.append('g');
fracG.append('rect').attr('x', 502.7).attr('y', 388.3).attr('width', 149.6).attr('height', 146.7)
    .attr('fill', '#fff').attr('stroke', '#b5b5b5').attr('stroke-width', 1);
fracG.selectAll('g.layer')
    .data(d3.stack().keys(fracKeys)(fracTable))
    .join('g')
    .attr('class', 'layer')
    .attr('fill', d => clusterColor(d.key))
    .selectAll('rect')
    .data(d => d)
    .join('rect')
    .attr('x', d => fracX(d.data.name))
    .attr('y', d => fracY(d[1]))
    .attr('width', fracX.bandwidth())
    .attr('height', d => fracY(d[0]) - fracY(d[1]));
const fracYAxis = fracG.append('g').attr('transform', 'translate(502.7,0)')
    .call(d3.axisLeft(fracY).ticks(5).tickFormat(d3.format('.1f')).tickSize(1.5).tickPadding(2.5));
styleAxis(fracYAxis, 9.4, '#444');
fracYAxis.select('.domain').remove();
const fracXAxis = fracG.append('g').attr('transform', 'translate(0,535)')
    .call(d3.axisBottom(fracX).tickSize(1.5).tickPadding(3));
styleAxis(fracXAxis, 8.3, textDark);
fracXAxis.select('.domain').remove();
fracXAxis.selectAll('text').each(function(d) {
    const parts = d.split('\n');
    const t = d3.select(this).text(null);
    parts.forEach((p, i) => t.append('tspan').attr('x', 0).attr('dy', i ? 10 : '0.71em').text(p));
});
label(477, 465, 'Fraction of cells', 10, {anchor: 'middle', rotate: -90});

// ---------- panel g
const intensityColor = d3.scaleSequential(d3.interpolateViridis).domain([1.77, 7]);

function heatPanel(o) {
    const x = d3.scaleBand().domain(heatGenes).range([o.x0, o.x1]);
    const y = d3.scaleLinear().domain(o.rows).range([o.y0, o.y1]);
    const g = svg.append('g');
    g.append('rect').attr('x', o.x0).attr('y', o.y0).attr('width', o.x1 - o.x0).attr('height', o.y1 - o.y0)
        .attr('fill', '#43134f');
    o.columns.forEach((bands, i) => {
        g.append('g').selectAll('rect')
            .data(bands)
            .join('rect')
            .attr('x', x(heatGenes[i]))
            .attr('width', x.bandwidth())
            .attr('y', d => y(d[0]))
            .attr('height', d => Math.max(y(d[1]) - y(d[0]), .7))
            .attr('fill', d => intensityColor(d[2]));
    });
    g.append('g').selectAll('rect')
        .data(o.bar)
        .join('rect')
        .attr('x', o.barX)
        .attr('width', o.barW)
        .attr('y', d => y(d[0]))
        .attr('height', d => y(d[1]) - y(d[0]))
        .attr('fill', d => clusterColor(d[2]));
    const axis = g.append('g').attr('transform', `translate(0,${o.y1})`)
        .call(d3.axisBottom(x).tickSize(0).tickPadding(o.pad));
    styleAxis(axis, 10.7, textDark);
    axis.select('.domain').remove();
}

heatPanel({x0: 70.7, x1: 285, y0: 561.7, y1: 839, rows: [20, 852], barX: 64, barW: 5.3, pad: 4,
    columns: [heatTnf, heatP40, heatIl6, heatChi, heatCcl5], bar: mainBarRows});
heatPanel({x0: 424, x1: 621, y0: 573.3, y1: 827.7, rows: [55, 818], barX: 417.7, barW: 5, pad: 4,
    columns: [zoomTnf, zoomP40, zoomIl6, zoomChi, zoomCcl5], bar: zoomBarRows});

svg.append('rect').attr('x', 377).attr('y', 562).attr('width', 259).attr('height', 285.7)
    .attr('fill', 'none').attr('stroke', '#888').attr('stroke-width', .9);
svg.append('line').attr('x1', 285).attr('y1', 709).attr('x2', 377).attr('y2', 562).attr('stroke', '#666').attr('stroke-width', .7);
svg.append('line').attr('x1', 285).attr('y1', 839).attr('x2', 377).attr('y2', 847.7).attr('stroke', '#666').attr('stroke-width', .7);

[['Silent', 636], ['L+I asc. - 1', 711.7], ['L+I asc. - 2', 761.7], ['L+I asc. - 3', 812.7], ['IL-4 asc.', 825.7], ['Mixed', 837.3]]
    .forEach(d => label(61, d[1], d[0], 10.7, {anchor: 'end'}));
[['L+I', 381.5, 577.3], ['asc. - 1', 380, 588.3], ['L+I', 381.5, 611.7], ['asc. - 3', 380, 624], ['IL-4', 396, 721.7], ['asc.', 396, 735], ['Mixed', 385.3, 816.7]]
    .forEach(d => label(d[1], d[2], d[0], 10.7));

gradientBar('intensityBar', intensityColor, [1.77, 7], 289.3, 561.7, 6.7, 113.3, true);
const intensityAxis = svg.append('g').attr('transform', 'translate(296,0)')
    .call(d3.axisRight(d3.scaleLinear().domain([1.77, 7]).range([675, 561.7])).tickValues(intensityTicks).tickSize(1.5).tickPadding(2).tickFormat(d3.format('d')));
styleAxis(intensityAxis, 7.5, '#444');
intensityAxis.select('.domain').remove();
label(311.7, 618, 'Intensity (a.f.u.)', 8, {anchor: 'middle', rotate: -90, fill: '#444'});
</script>
</body>
</html>
